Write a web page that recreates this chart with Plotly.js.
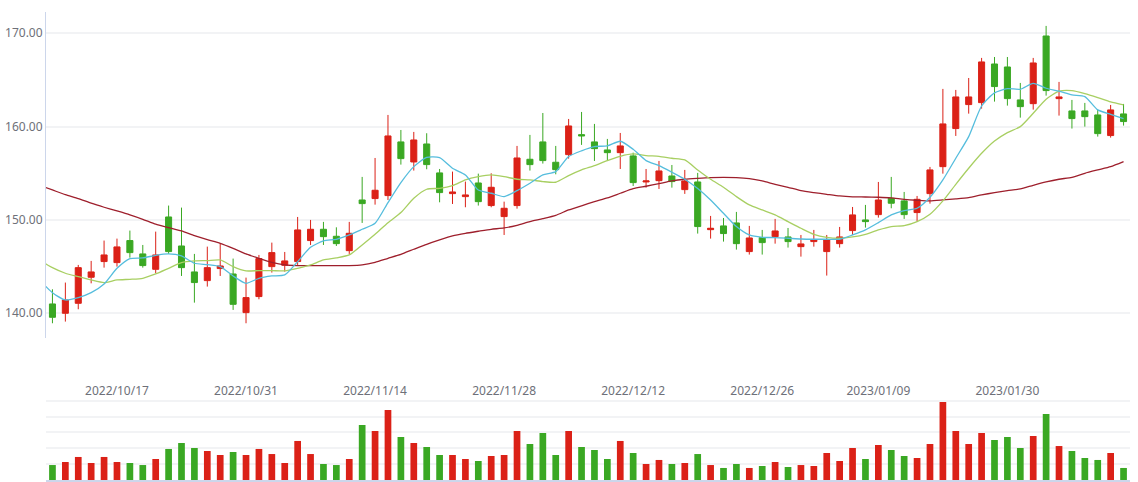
<!DOCTYPE html>
<html>
<head>
<meta charset="utf-8">
<script src="https://cdn.plot.ly/plotly-3.0.1.min.js"></script>
<style>
  html, body { margin: 0; padding: 0; background: #fff; }
  #chart { width: 1138px; height: 482px; }
</style>
</head>
<body>
<div id="chart"></div>
<script>
'use strict';

// trading day before the first visible candle, only the MA lines have a value there
const prevDate = '2022/09/30';

const dates = [
  '2022/10/10', '2022/10/11', '2022/10/12', '2022/10/13', '2022/10/14',
  '2022/10/17', '2022/10/18', '2022/10/19', '2022/10/20', '2022/10/21',
  '2022/10/24', '2022/10/25', '2022/10/26', '2022/10/27', '2022/10/28',
  '2022/10/31', '2022/11/01', '2022/11/02', '2022/11/03', '2022/11/04',
  '2022/11/07', '2022/11/08', '2022/11/09', '2022/11/10', '2022/11/11',
  '2022/11/14', '2022/11/15', '2022/11/16', '2022/11/17', '2022/11/18',
  '2022/11/21', '2022/11/22', '2022/11/23', '2022/11/24', '2022/11/25',
  '2022/11/28', '2022/11/29', '2022/11/30', '2022/12/01', '2022/12/02',
  '2022/12/05', '2022/12/06', '2022/12/07', '2022/12/08', '2022/12/09',
  '2022/12/12', '2022/12/13', '2022/12/14', '2022/12/15', '2022/12/16',
  '2022/12/19', '2022/12/20', '2022/12/21', '2022/12/22', '2022/12/23',
  '2022/12/26', '2022/12/27', '2022/12/28', '2022/12/29', '2022/12/30',
  '2023/01/03', '2023/01/04', '2023/01/05', '2023/01/06',
  '2023/01/09', '2023/01/10', '2023/01/11', '2023/01/12', '2023/01/13',
  '2023/01/16', '2023/01/17', '2023/01/18', '2023/01/19', '2023/01/20',
  '2023/01/30', '2023/01/31', '2023/02/01', '2023/02/02', '2023/02/03',
  '2023/02/06', '2023/02/07', '2023/02/08', '2023/02/09', '2023/02/10'
];

const tickDates = ['2022/10/17', '2022/10/31', '2022/11/14', '2022/11/28',
  '2022/12/12', '2022/12/26', '2023/01/09', '2023/01/30'];

const open = [
  141.00, 140.00, 141.07, 143.86, 145.54, 145.43, 147.79, 146.36, 144.71, 150.32,
  147.21, 144.43, 143.50, 144.79, 144.21, 140.07, 141.79, 145.00, 145.14, 145.54,
  147.79, 149.00, 148.25, 146.71, 152.14, 152.29, 152.61, 158.36, 156.21, 158.14,
  155.04, 152.82, 152.50, 153.96, 151.54, 150.36, 151.54, 156.50, 158.36, 156.18,
  157.00, 159.14, 158.36, 157.50, 157.21, 156.86, 154.07, 154.21, 154.71, 153.25,
  154.07, 148.96, 149.36, 149.68, 146.61, 148.11, 148.21, 148.18, 147.14, 147.68,
  146.61, 147.46, 148.86, 150.00, 150.57, 152.32, 152.04, 150.79, 152.82, 155.71,
  159.79, 162.36, 162.57, 166.71, 166.39, 162.86, 162.46, 169.71, 163.00, 161.68,
  161.68, 161.25, 159.04, 161.36
];
const high = [
  142.57, 143.29, 145.18, 145.61, 147.79, 148.00, 148.86, 147.32, 148.75, 151.54,
  151.32, 146.36, 147.14, 147.43, 145.86, 143.82, 146.25, 147.57, 146.57, 150.32,
  150.00, 149.79, 149.21, 149.79, 154.61, 156.64, 161.25, 159.64, 159.43, 159.29,
  155.46, 155.18, 154.11, 154.96, 155.00, 151.96, 157.93, 159.11, 161.46, 157.93,
  160.82, 161.57, 160.29, 158.68, 159.32, 157.21, 155.46, 156.32, 155.89, 155.36,
  155.04, 150.43, 150.21, 150.86, 149.36, 148.93, 150.11, 149.14, 148.39, 148.93,
  148.39, 149.25, 151.39, 151.61, 154.07, 154.61, 153.00, 152.57, 155.68, 164.04,
  163.93, 165.21, 167.36, 167.46, 167.46, 164.68, 167.36, 170.79, 164.79, 162.86,
  162.54, 161.79, 162.32, 162.43
];
const low = [
  138.93, 139.11, 140.43, 143.21, 144.89, 145.00, 145.96, 144.89, 144.29, 146.36,
  144.00, 141.14, 142.86, 144.00, 140.36, 138.93, 141.50, 144.36, 144.46, 145.18,
  147.32, 147.32, 147.21, 146.36, 149.68, 151.64, 152.14, 155.93, 155.29, 155.43,
  151.89, 151.71, 151.36, 151.54, 151.36, 148.39, 151.21, 155.29, 156.04, 154.89,
  156.57, 158.04, 156.32, 156.32, 155.46, 153.64, 153.46, 153.32, 153.46, 152.79,
  148.54, 148.00, 147.68, 146.82, 146.29, 146.29, 147.46, 147.04, 146.07, 147.14,
  144.04, 147.04, 148.39, 149.18, 150.25, 151.25, 150.11, 149.89, 151.75, 154.96,
  159.00, 161.39, 161.93, 162.68, 162.25, 160.96, 161.82, 163.32, 161.18, 159.79,
  160.00, 158.93, 158.82, 160.11
];
const close = [
  139.57, 141.43, 144.89, 144.43, 146.25, 147.11, 146.50, 145.11, 146.25, 146.61,
  144.89, 143.29, 144.89, 145.07, 140.96, 141.68, 145.86, 146.50, 145.61, 148.93,
  149.00, 148.21, 147.46, 148.57, 151.75, 153.18, 159.00, 156.57, 158.57, 155.93,
  152.93, 153.00, 152.68, 151.96, 153.50, 151.25, 156.64, 155.93, 156.36, 155.39,
  160.07, 159.00, 157.64, 157.21, 157.93, 154.00, 154.18, 155.25, 154.11, 154.18,
  149.29, 149.11, 148.54, 147.46, 148.07, 147.57, 148.82, 147.68, 147.43, 147.89,
  147.89, 148.18, 150.54, 149.82, 152.14, 151.79, 150.57, 152.21, 155.36, 160.29,
  163.18, 163.18, 166.93, 164.29, 163.00, 162.14, 166.82, 163.86, 163.18, 160.86,
  161.07, 159.25, 161.79, 160.54
];

// volume, 万手
const volume = [
  1.89, 2.27, 2.91, 2.15, 2.91, 2.27, 2.15, 1.89, 2.65, 3.92,
  4.67, 4.04, 3.66, 3.16, 3.54, 3.16, 3.92, 3.28, 2.15, 4.93,
  3.28, 2.02, 1.89, 2.65, 6.95, 6.19, 8.84, 5.43, 4.67, 4.17,
  3.16, 3.16, 2.65, 2.40, 3.03, 3.16, 6.19, 4.55, 5.94, 3.16,
  6.19, 4.17, 3.79, 2.65, 4.93, 3.41, 2.02, 2.53, 2.02, 2.15,
  3.28, 1.89, 1.52, 2.02, 1.52, 1.77, 2.27, 1.64, 1.89, 1.77,
  3.41, 2.40, 4.04, 2.65, 4.42, 3.79, 3.03, 2.78, 4.55, 9.85,
  6.19, 4.55, 5.94, 5.05, 5.43, 4.04, 5.56, 8.34, 4.29, 3.66,
  2.78, 2.53, 3.41, 1.52
];

// moving averages, first value belongs to prevDate
const ma5 = [
  143.57,
  142.21, 141.43, 141.68, 142.21, 143.14, 144.82, 145.86, 145.93, 146.21, 146.36,
  146.14, 145.36, 145.21, 145.00, 144.00, 143.21, 143.75, 144.00, 144.11, 145.54,
  147.07, 147.75, 147.93, 148.39, 149.00, 149.64, 151.86, 154.00, 155.71, 156.71,
  156.68, 155.54, 154.82, 153.21, 152.86, 152.50, 153.14, 153.93, 154.82, 155.18,
  156.79, 157.41, 157.86, 157.93, 158.43, 157.57, 156.36, 155.82, 155.11, 154.36,
  153.36, 152.14, 150.71, 149.29, 148.39, 148.14, 148.11, 148.04, 147.96, 147.93,
  147.93, 147.93, 148.39, 148.93, 149.71, 150.54, 151.00, 151.25, 152.43, 154.29,
  156.61, 158.93, 162.21, 163.61, 164.07, 164.00, 164.64, 164.11, 163.79, 163.39,
  163.21, 161.79, 161.32, 160.86
];
const ma10 = [
  145.71,
  144.89, 144.29, 143.93, 143.57, 143.29, 143.57, 143.64, 143.75, 144.21, 144.82,
  145.43, 145.61, 145.64, 145.71, 145.00, 144.54, 144.57, 144.57, 144.54, 144.82,
  145.18, 145.71, 145.93, 146.25, 147.32, 148.46, 149.71, 150.79, 152.32, 153.29,
  153.39, 153.68, 154.29, 154.64, 154.82, 154.64, 154.36, 154.29, 154.11, 154.04,
  154.75, 155.36, 155.82, 156.36, 156.82, 157.07, 156.89, 156.82, 156.61, 156.43,
  155.36, 154.36, 153.50, 152.50, 151.61, 151.07, 150.54, 149.82, 149.11, 148.46,
  148.14, 148.04, 148.18, 148.46, 148.93, 149.29, 149.39, 149.82, 150.61, 152.04,
  153.82, 155.54, 157.14, 158.46, 159.36, 160.00, 161.43, 162.93, 163.79, 163.86,
  163.54, 163.11, 162.64, 162.32
];
const ma60 = [
  153.71,
  153.21, 152.71, 152.29, 151.79, 151.36, 150.96, 150.54, 150.07, 149.54, 149.18,
  148.82, 148.32, 147.89, 147.50, 146.96, 146.36, 145.89, 145.46, 145.18, 145.11,
  145.11, 145.11, 145.11, 145.11, 145.18, 145.46, 145.89, 146.32, 146.86, 147.39,
  147.86, 148.29, 148.57, 148.79, 149.00, 149.14, 149.43, 149.82, 150.14, 150.50,
  151.07, 151.52, 151.96, 152.36, 152.86, 153.36, 153.61, 153.89, 154.18, 154.36,
  154.46, 154.54, 154.57, 154.54, 154.43, 154.18, 153.82, 153.50, 153.14, 152.93,
  152.75, 152.57, 152.48, 152.46, 152.43, 152.36, 152.21, 152.11, 152.04, 152.14,
  152.25, 152.39, 152.68, 152.93, 153.14, 153.32, 153.71, 154.07, 154.36, 154.57,
  155.00, 155.36, 155.71, 156.25
];

const UP = '#db2117';
const DOWN = '#3aa823';
const TEXT = '#6e7079';
const GRID = '#f2f3f5';
const AXIS = '#ccd6eb';

const maDates = [prevDate].concat(dates);
const volColors = close.map((c, i) => (c >= open[i] ? UP : DOWN));

function maTrace(values, color) {
  return {
    type: 'scatter',
    mode: 'lines',
    x: maDates,
    y: values,
    xaxis: 'x',
    yaxis: 'y',
    line: {color: color, width: 1.3, shape: 'spline', smoothing: 0.6},
    hoverinfo: 'skip'
  };
}

const data = [
  {
    type: 'candlestick',
    x: dates,
    open: open,
    high: high,
    low: low,
    close: close,
    xaxis: 'x',
    yaxis: 'y',
    increasing: {line: {color: UP, width: 1}, fillcolor: UP},
    decreasing: {line: {color: DOWN, width: 1}, fillcolor: DOWN},
    whiskerwidth: 0,
    hoverinfo: 'skip'
  },
  maTrace(ma60, '#9e1f2c'),
  maTrace(ma10, '#a8cf62'),
  maTrace(ma5, '#55bddd'),
  {
    type: 'bar',
    x: dates,
    y: volume,
    xaxis: 'x2',
    yaxis: 'y2',
    width: 0.52,
    marker: {color: volColors, line: {width: 0}},
    hoverinfo: 'skip'
  }
];

const xRange = [0.5, maDates.length - 0.5];

const layout = {
  width: 1138,
  height: 482,
  margin: {l: 46, r: 8, t: 12, b: 2},
  paper_bgcolor: '#ffffff',
  plot_bgcolor: '#ffffff',
  showlegend: false,
  hovermode: false,
  boxgap: 0.33,
  font: {family: '"Noto Sans", "Liberation Sans", sans-serif', size: 12, color: TEXT},
  xaxis: {
    type: 'category',
    categoryorder: 'array',
    categoryarray: maDates,
    range: xRange,
    anchor: 'y',
    showgrid: false,
    showline: false,
    zeroline: false,
    ticks: '',
    tickvals: tickDates,
    ticktext: tickDates,
    ticklabelstandoff: 44,
    tickfont: {size: 12, color: TEXT},
    rangeslider: {visible: false},
    fixedrange: true
  },
  yaxis: {
    domain: [0.3034, 1],
    range: [137.35, 172.28],
    dtick: 10,
    tick0: 0,
    tickformat: '.2f',
    showgrid: true,
    gridcolor: GRID,
    gridwidth: 2,
    showline: true,
    linecolor: AXIS,
    linewidth: 1,
    zeroline: false,
    ticks: '',
    tickfont: {size: 12, color: TEXT},
    fixedrange: true
  },
  xaxis2: {
    type: 'category',
    categoryorder: 'array',
    categoryarray: maDates,
    range: xRange,
    anchor: 'y2',
    showgrid: false,
    showline: true,
    linecolor: AXIS,
    linewidth: 1.5,
    zeroline: false,
    ticks: '',
    showticklabels: false,
    fixedrange: true
  },
  yaxis2: {
    domain: [0, 0.203],
    range: [0, 12],
    dtick: 2,
    showgrid: true,
    gridcolor: GRID,
    gridwidth: 2,
    showline: false,
    zeroline: false,
    showticklabels: false,
    ticks: '',
    fixedrange: true
  }
};

Plotly.newPlot('chart', data, layout, {displayModeBar: false, staticPlot: true});
</script>
</body>
</html>
